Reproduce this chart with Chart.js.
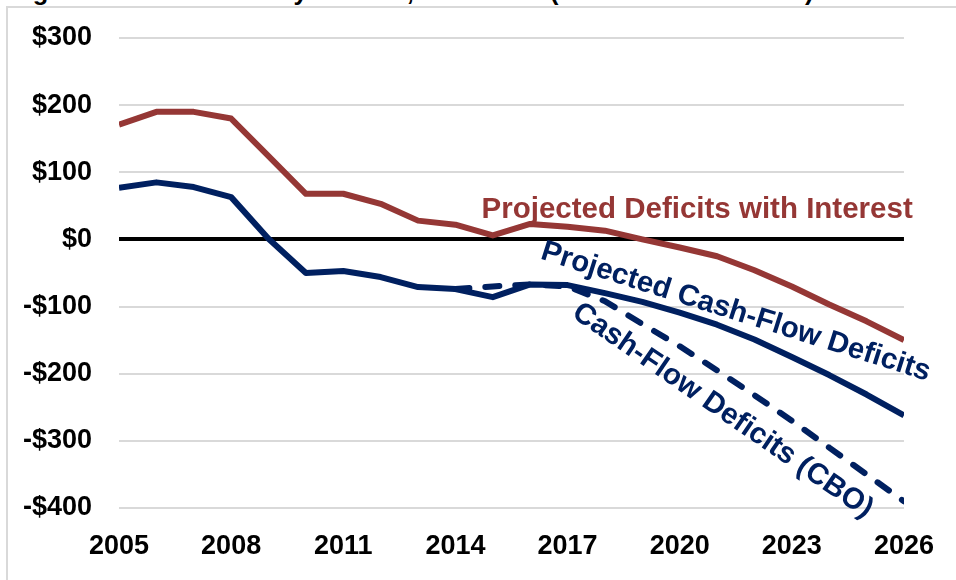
<!DOCTYPE html>
<html>
<head>
<meta charset="utf-8">
<script src="https://cdn.jsdelivr.net/npm/chart.js@4.4.1/dist/chart.umd.min.js"></script>
<style>
  html, body { margin: 0; padding: 0; background: #fff; overflow: hidden; }
  #wrap { position: relative; width: 956px; height: 580px; overflow: hidden; }
  #frame { position: absolute; left: 6px; top: 6px; width: 2000px; height: 2000px; border: 2px solid #d9d9d9; }
  #title { position: absolute; left: 10px; top: -22px; font: bold 25.5px "Liberation Sans", Arial, sans-serif; line-height: 26px; color: #000; white-space: nowrap; }
  canvas { position: absolute; left: 0; top: 0; }
</style>
</head>
<body>
<div id="wrap">
  <div id="frame"></div>
  <div id="title">Figure 1: Social Security Deficits, 2005-2026 (in Billions of Dollars)</div>
  <canvas id="c" width="956" height="580"></canvas>
</div>
<script>
// ---- data ----
const years = [2005, 2006, 2007, 2008, 2009, 2010, 2011, 2012, 2013, 2014, 2015, 2016, 2017, 2018, 2019, 2020, 2021, 2022, 2023, 2024, 2025, 2026];
const deficitsWithInterest = [171, 190, 190, 180, 124, 68, 68, 53, 28, 22, 6, 23, 19, 13, 0, -12, -25, -46, -70, -97, -122, -150];
const cashFlowDeficits = [77, 85, 78, 63, 1, -50, -47, -56, -71, -74, -86, -67, -68, -80, -93, -109, -127, -149, -175, -202, -231, -262];
const cboCashFlowDeficits = [null, null, null, null, null, null, null, null, null, -74, -70, -67, -70, -92, -126, -159, -195, -232, -270, -310, -350, -390];
const xTickYears = [2005, 2008, 2011, 2014, 2017, 2020, 2023, 2026];
const yTickValues = [300, 200, 100, 0, -100, -200, -300, -400];
const seriesLabels = ['Projected Deficits with Interest', 'Projected Cash-Flow Deficits', 'Cash-Flow Deficits (CBO)'];

const RED = '#953735';
const NAVY = '#002060';

const toPts = (arr) => years.map((y, i) => ({ x: y, y: arr[i] }));

// label anchors in data coordinates
const labelAnchors = [
  { text: seriesLabels[0], x: 2014.7, y: 44, angle: 0, align: 'left', color: RED },
  { text: seriesLabels[1], x: 2021.5, y: -108, angle: 17.5, align: 'center', color: NAVY },
  { text: seriesLabels[2], x: 2021.15, y: -255, angle: 34.5, align: 'center', color: NAVY }
];

const labelPlugin = {
  id: 'seriesLabels',
  afterDatasetsDraw(chart) {
    const ctx = chart.ctx;
    const xs = chart.scales.x, ys = chart.scales.y;
    ctx.save();
    ctx.font = 'bold 29.5px "Liberation Sans", Arial, sans-serif';
    ctx.textBaseline = 'middle';
    labelAnchors.forEach(l => {
      const px = xs.getPixelForValue(l.x), py = ys.getPixelForValue(l.y);
      ctx.save();
      ctx.translate(px, py);
      ctx.rotate(l.angle * Math.PI / 180);
      ctx.textAlign = l.align;
      ctx.fillStyle = l.color;
      ctx.fillText(l.text, 0, 0);
      ctx.restore();
    });
    ctx.restore();
  }
};

const tickFont = { family: '"Liberation Sans Narrow", "Liberation Sans", Arial, sans-serif', size: 27, weight: 'bold' };

new Chart(document.getElementById('c'), {
  type: 'line',
  data: {
    datasets: [
      { label: seriesLabels[0], data: toPts(deficitsWithInterest), borderColor: RED, borderWidth: 6, pointRadius: 0, tension: 0, borderJoinStyle: 'round' },
      { label: seriesLabels[1], data: toPts(cashFlowDeficits), borderColor: NAVY, borderWidth: 6, pointRadius: 0, tension: 0, borderJoinStyle: 'round' },
      { label: seriesLabels[2], data: toPts(cboCashFlowDeficits), borderColor: NAVY, borderWidth: 6, pointRadius: 0, tension: 0, borderDash: [14, 16], borderCapStyle: 'round', spanGaps: false }
    ]
  },
  options: {
    responsive: false,
    animation: false,
    devicePixelRatio: 1,
    layout: { padding: { top: 38, right: 48, left: 0, bottom: 0 } },
    plugins: { legend: { display: false }, tooltip: { enabled: false }, title: { display: false } },
    scales: {
      x: {
        type: 'linear',
        min: 2005, max: 2026,
        grid: { display: false, drawTicks: false },
        border: { display: false },
        afterBuildTicks: (s) => { s.ticks = xTickYears.map(v => ({ value: v })); },
        afterFit: (s) => { s.height = 72; },
        ticks: { color: '#000', font: tickFont, padding: 22, maxRotation: 0, autoSkip: false, callback: (v) => String(v) }
      },
      y: {
        min: -400, max: 300,
        afterBuildTicks: (s) => { s.ticks = yTickValues.map(v => ({ value: v })); },
        afterFit: (s) => { s.width = 119; },
        border: { display: false },
        grid: {
          drawTicks: true,
          tickLength: 17,
          tickColor: 'rgba(0,0,0,0)',
          color: (c) => c.tick && c.tick.value === 0 ? '#000' : '#d9d9d9',
          lineWidth: (c) => c.tick && c.tick.value === 0 ? 4 : 2
        },
        ticks: {
          color: '#000', font: tickFont, padding: 10,
          callback: (v) => (v < 0 ? '-$' + Math.abs(v) : '$' + v)
        }
      }
    }
  },
  plugins: [labelPlugin]
});
</script>
</body>
</html>
